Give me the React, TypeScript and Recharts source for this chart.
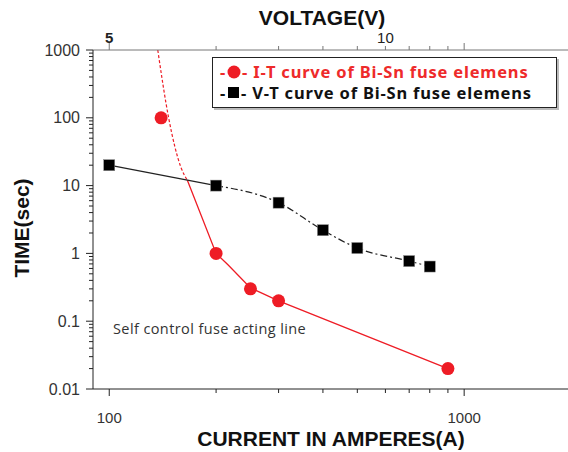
import React from 'react';
import { ComposedChart, Line, Scatter, XAxis, YAxis, Legend, Label } from 'recharts';

// ---- tick values ----
const currentTicks = [100, 200, 300, 400, 500, 600, 700, 800, 900, 1000, 2000];
const currentMajorLabels: Record<number, string> = { 100: '100', 1000: '1000' };
const voltageTicks = [100, 200, 300, 400, 500, 600, 700, 800, 900, 1000, 2000];
const voltageMajor = [100, 1000];
const voltageLabels: Record<number, string> = { 100: '5', 600: '10' };
const timeTicks = [
  0.01, 0.02, 0.03, 0.04, 0.05, 0.06, 0.07, 0.08, 0.09,
  0.1, 0.2, 0.3, 0.4, 0.5, 0.6, 0.7, 0.8, 0.9,
  1, 2, 3, 4, 5, 6, 7, 8, 9,
  10, 20, 30, 40, 50, 60, 70, 80, 90,
  100, 200, 300, 400, 500, 600, 700, 800, 900,
  1000,
];
const timeMajorLabels: Record<number, string> = { 0.01: '0.01', 0.1: '0.1', 1: '1', 10: '10', 100: '100', 1000: '1000' };

// ---- series ----
const itCurrent = [140, 200, 250, 300, 900];
const itTime = [100, 1, 0.3, 0.2, 0.02];

const vtVoltage = [100, 200, 300, 400, 500, 700, 800];
const vtTime = [20, 10, 5.6, 2.2, 1.2, 0.77, 0.64];

const actingDashedCurrent = [137, 147, 159, 166];
const actingDashedTime = [1000, 100, 19, 12];
const actingSolidCurrent = [166, 200, 216, 250, 300, 900];
const actingSolidTime = [12, 1, 0.68, 0.31, 0.2, 0.02];

const legendLabels = ['I-T curve of Bi-Sn fuse elemens', 'V-T curve of Bi-Sn fuse elemens'];
const annotation = 'Self control fuse acting line';

const zip = (xs: number[], ys: number[]) => xs.map((x, i) => ({ x, y: ys[i] }));
const itData = zip(itCurrent, itTime);
const vtData = zip(vtVoltage, vtTime);
const vtFirst = vtData.slice(0, 2);
const vtRest = vtData.slice(1);
const dashedData = zip(actingDashedCurrent, actingDashedTime);
const solidData = zip(actingSolidCurrent, actingSolidTime);

const RED = '#ee1c25';
const NUM_FONT = '"Liberation Sans", Arial, sans-serif';
const AXIS_COLOR = '#222';

const YTick = (props: any) => {
  const { x, y, payload } = props;
  const label = timeMajorLabels[payload.value];
  const len = label ? 7 : 4;
  return (
    <g>
      <line x1={x} x2={x - len} y1={y} y2={y} stroke={AXIS_COLOR} strokeWidth={1} />
      {label && (
        <text x={x - 13} y={y} dy={5.5} textAnchor="end" fontSize={16} fontFamily={NUM_FONT} fill="#333">
          {label}
        </text>
      )}
    </g>
  );
};

const BottomTick = (props: any) => {
  const { x, y, payload } = props;
  const label = currentMajorLabels[payload.value];
  const len = label ? 7 : 4;
  return (
    <g>
      <line x1={x} x2={x} y1={y} y2={y + len} stroke={AXIS_COLOR} strokeWidth={1} />
      {label && (
        <text x={x} y={y + 34} textAnchor="middle" fontSize={15} fontFamily={NUM_FONT} fill="#333">
          {label}
        </text>
      )}
    </g>
  );
};

const TopTick = (props: any) => {
  const { x, y, payload } = props;
  const major = voltageMajor.includes(payload.value);
  const label = voltageLabels[payload.value];
  const len = major ? 7 : 4;
  return (
    <g>
      <line x1={x} x2={x} y1={y} y2={y - len} stroke="#777" strokeWidth={1} />
      {label && (
        <text
          x={x}
          y={y - 7}
          textAnchor="middle"
          fontSize={15}
          fontWeight={label === '5' ? 'bold' : 'normal'}
          fontFamily={NUM_FONT}
          fill="#222"
        >
          {label}
        </text>
      )}
    </g>
  );
};

const SquareDot = (props: any) => {
  const { cx, cy } = props;
  if (cx == null || cy == null) return null;
  return <rect x={cx - 5.5} y={cy - 5.5} width={11} height={11} fill="#000" stroke="#888" strokeWidth={0.5} />;
};

const CircleShape = (props: any) => {
  const { cx, cy } = props;
  return <circle cx={cx} cy={cy} r={6.5} fill={RED} />;
};

const LegendContent = () => (
  <div
    style={{
      boxSizing: 'border-box',
      width: 345,
      height: 51,
      border: '1.3px solid #222',
      boxShadow: '2px 2px 0 #bbb',
      background: '#fff',
      padding: '3px 0 0 7px',
      fontFamily: '"Noto Sans", "Open Sans", sans-serif',
      fontWeight: 700,
      fontSize: 16.5,
      letterSpacing: 0.8,
      lineHeight: '21px',
      whiteSpace: 'nowrap',
    }}
  >
    <div style={{ color: '#ee2a2a', display: 'flex', alignItems: 'center' }}>
      <span>-</span>
      <svg width={14} height={14} style={{ margin: '0 1px' }}>
        <circle cx={7} cy={7} r={6.5} fill={RED} />
      </svg>
      <span>- {legendLabels[0]}</span>
    </div>
    <div style={{ color: '#111', display: 'flex', alignItems: 'center' }}>
      <span>-</span>
      <svg width={13} height={13} style={{ margin: '0 1px' }}>
        <rect x={1} y={1} width={11} height={11} fill="#000" />
      </svg>
      <span>- {legendLabels[1]}</span>
    </div>
  </div>
);

export default function App() {
  return (
    <div style={{ position: 'absolute', left: 0, top: 0, width: 568, height: 452, overflow: 'hidden', background: '#fff' }}>
      <ComposedChart width={572} height={452} margin={{ top: 0, right: 1, bottom: 0, left: 0 }}>
        <XAxis
          xAxisId="bottom"
          dataKey="x"
          type="number"
          scale="log"
          domain={[90, 2000]}
          allowDataOverflow
          ticks={currentTicks}
          interval={0}
          orientation="bottom"
          height={63}
          tickSize={0}
          tickMargin={0}
          tick={<BottomTick />}
          stroke={AXIS_COLOR}
        >
          <Label
            content={() => (
              <text x={331} y={446} textAnchor="middle" fontSize={21} fontWeight="bold" fontFamily={NUM_FONT} fill="#111">
                CURRENT IN AMPERES(A)
              </text>
            )}
          />
        </XAxis>
        <XAxis
          xAxisId="top"
          dataKey="x"
          type="number"
          scale="log"
          domain={[90, 2000]}
          allowDataOverflow
          ticks={voltageTicks}
          interval={0}
          orientation="top"
          height={50}
          tickSize={0}
          tickMargin={0}
          tick={<TopTick />}
          stroke="#777"
        >
          <Label
            content={() => (
              <text x={322} y={25} textAnchor="middle" fontSize={21} fontWeight="bold" fontFamily={NUM_FONT} fill="#111">
                VOLTAGE(V)
              </text>
            )}
          />
        </XAxis>
        <YAxis
          dataKey="y"
          type="number"
          scale="log"
          domain={[0.01, 1000]}
          allowDataOverflow
          ticks={timeTicks}
          interval={0}
          width={93}
          tickSize={0}
          tickMargin={0}
          tick={<YTick />}
          stroke={AXIS_COLOR}
        >
          <Label
            content={() => (
              <text
                x={29}
                y={228}
                transform="rotate(-90, 29, 228)"
                textAnchor="middle"
                fontSize={21}
                fontWeight="bold"
                fontFamily={NUM_FONT}
                fill="#111"
              >
                TIME(sec)
              </text>
            )}
          />
        </YAxis>

        <Line
          xAxisId="bottom"
          data={dashedData}
          dataKey="y"
          type="monotone"
          stroke={RED}
          strokeWidth={1.2}
          strokeDasharray="3 2"
          dot={false}
          activeDot={false}
          isAnimationActive={false}
          legendType="none"
        />
        <Line
          xAxisId="bottom"
          data={solidData}
          dataKey="y"
          type="linear"
          stroke={RED}
          strokeWidth={1.3}
          dot={false}
          activeDot={false}
          isAnimationActive={false}
          legendType="none"
        />
        <Line
          xAxisId="top"
          data={vtFirst}
          dataKey="y"
          type="linear"
          stroke="#222"
          strokeWidth={1.2}
          dot={false}
          activeDot={false}
          isAnimationActive={false}
          legendType="none"
        />
        <Line
          xAxisId="top"
          data={vtRest}
          dataKey="y"
          type="monotone"
          stroke="#222"
          strokeWidth={1.2}
          strokeDasharray="7 3 2 3"
          dot={false}
          activeDot={false}
          isAnimationActive={false}
          legendType="none"
        />
        <Line
          xAxisId="top"
          data={vtData}
          dataKey="y"
          name={legendLabels[1]}
          stroke="none"
          dot={<SquareDot />}
          activeDot={false}
          isAnimationActive={false}
        />
        <Scatter
          xAxisId="bottom"
          data={itData}
          dataKey="y"
          name={legendLabels[0]}
          shape={<CircleShape />}
          isAnimationActive={false}
        />
        <Legend
          layout="horizontal"
          verticalAlign="middle"
          align="center"
          content={<LegendContent />}
          wrapperStyle={{ position: 'absolute', left: 212, top: 57, width: 345, height: 51, margin: 0 }}
        />
      </ComposedChart>
      <div
        style={{
          position: 'absolute',
          left: 113,
          top: 319,
          fontFamily: '"Open Sans", "Noto Sans", sans-serif',
          fontSize: 14.5,
          letterSpacing: 0.4,
          color: '#333',
          whiteSpace: 'nowrap',
        }}
      >
        {annotation}
      </div>
    </div>
  );
}
